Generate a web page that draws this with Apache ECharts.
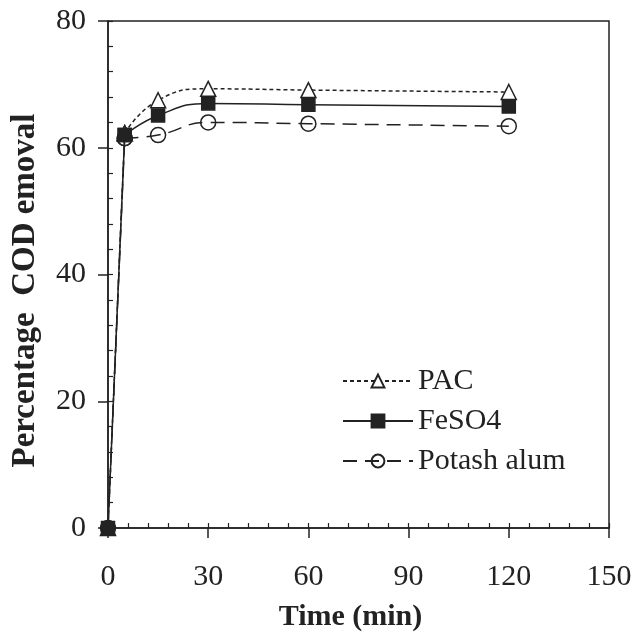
<!DOCTYPE html>
<html>
<head>
<meta charset="utf-8">
<script src="https://cdn.jsdelivr.net/npm/echarts@6/dist/echarts.min.js"></script>
<style>html,body{margin:0;padding:0;background:#fff}#c{width:635px;height:638px}</style>
</head>
<body>
<div id="c"></div>
<script>
const timeMin = [0, 5, 15, 30, 60, 120];
const pac = [0, 62.3, 67.5, 69.3, 69.1, 68.8];
const feso4 = [0, 62.0, 65.1, 67.0, 66.8, 66.5];
const potash = [0, 61.5, 62.0, 64.0, 63.8, 63.4];
const xTicks = [0, 30, 60, 90, 120, 150];
const yTicks = [0, 20, 40, 60, 80];
const seriesNames = ['PAC', 'FeSO4', 'Potash alum'];

const ink = '#222';
const font = '"Liberation Serif", "DejaVu Serif", serif';
const pairs = ys => timeMin.map((t, i) => [t, ys[i]]);

const styles = {
  'PAC': { values: pac, z: 3, symbol: 'triangle', size: [15, 15], dash: [4, 3], fill: '#fff' },
  'FeSO4': { values: feso4, z: 4, symbol: 'rect', size: 13, dash: 'solid', fill: ink },
  'Potash alum': { values: potash, z: 2, symbol: 'circle', size: 15, dash: [14, 8], fill: 'rgba(255,255,255,0)' }
};

const series = [];
// smooth part from the first sampling time onward (with markers)
seriesNames.forEach(name => {
  const s = styles[name];
  series.push({
    name, type: 'line', data: pairs(s.values).slice(1), z: s.z,
    smooth: 0.5,
    symbol: s.symbol, symbolSize: s.size, showSymbol: true,
    lineStyle: { color: ink, width: 1.5, type: s.dash },
    itemStyle: { color: s.fill, borderColor: ink, borderWidth: 1.5 }
  });
});
// initial straight rise from t = 0
seriesNames.forEach(name => {
  const s = styles[name];
  series.push({
    name, type: 'line', data: pairs(s.values).slice(0, 2), z: s.z,
    smooth: false,
    symbol: s.symbol, symbolSize: s.size, showSymbol: true,
    lineStyle: { color: ink, width: 1.5, type: s.dash },
    itemStyle: { color: s.fill, borderColor: ink, borderWidth: 1.5 }
  });
});

const chart = echarts.init(document.getElementById('c'));
const baseX = {
  type: 'value', min: xTicks[0], max: xTicks[xTicks.length - 1], interval: 30, gridIndex: 0,
  splitLine: { show: false }
};
const baseY = {
  type: 'value', min: yTicks[0], max: yTicks[yTicks.length - 1], interval: 20, gridIndex: 0,
  splitLine: { show: false }
};
chart.setOption({
  animation: false,
  backgroundColor: '#fff',
  grid: { left: 108, right: 26, top: 21, bottom: 110, show: true, borderColor: ink, borderWidth: 1.5, backgroundColor: 'transparent' },
  legend: {
    data: seriesNames,
    orient: 'vertical', left: 337, top: 361,
    itemWidth: 70, itemHeight: 16, itemGap: 10,
    textStyle: { fontFamily: font, fontSize: 30, color: ink },
    inactiveColor: '#ccc'
  },
  xAxis: [
    Object.assign({}, baseX, {
      position: 'bottom',
      name: 'Time (min)', nameLocation: 'middle', nameGap: 74,
      nameTextStyle: { fontFamily: font, fontSize: 30, fontWeight: 'bold', color: ink, padding: [0, 16, 0, 0] },
      axisLine: { show: true, lineStyle: { color: ink, width: 1.5 } },
      axisTick: { show: true, inside: false, length: 10, lineStyle: { color: ink, width: 1.5 } },
      minorTick: { show: false },
      axisLabel: { fontFamily: font, fontSize: 30, color: ink, margin: 34 }
    }),
    Object.assign({}, baseX, {
      position: 'bottom',
      axisLine: { show: false },
      axisTick: { show: true, inside: true, length: 5, lineStyle: { color: ink, width: 1.2 } },
      minorTick: { show: true, splitNumber: 5, length: 5, lineStyle: { color: ink, width: 1.2 } },
      axisLabel: { show: false }
    })
  ],
  yAxis: [
    Object.assign({}, baseY, {
      position: 'left',
      name: 'Percentage  COD emoval', nameLocation: 'middle', nameGap: 66,
      nameTextStyle: { fontFamily: font, fontSize: 33, fontWeight: 'bold', color: ink, padding: [0, 32, 0, 0] },
      axisLine: { show: true, lineStyle: { color: ink, width: 1.5 } },
      axisTick: { show: true, inside: false, length: 10, lineStyle: { color: ink, width: 1.5 } },
      minorTick: { show: false },
      axisLabel: { fontFamily: font, fontSize: 30, color: ink, margin: 22 }
    }),
    Object.assign({}, baseY, {
      position: 'left',
      axisLine: { show: false },
      axisTick: { show: true, inside: true, length: 5, lineStyle: { color: ink, width: 1.2 } },
      minorTick: { show: true, splitNumber: 5, length: 5, lineStyle: { color: ink, width: 1.2 } },
      axisLabel: { show: false }
    })
  ],
  series
});
</script>
</body>
</html>
